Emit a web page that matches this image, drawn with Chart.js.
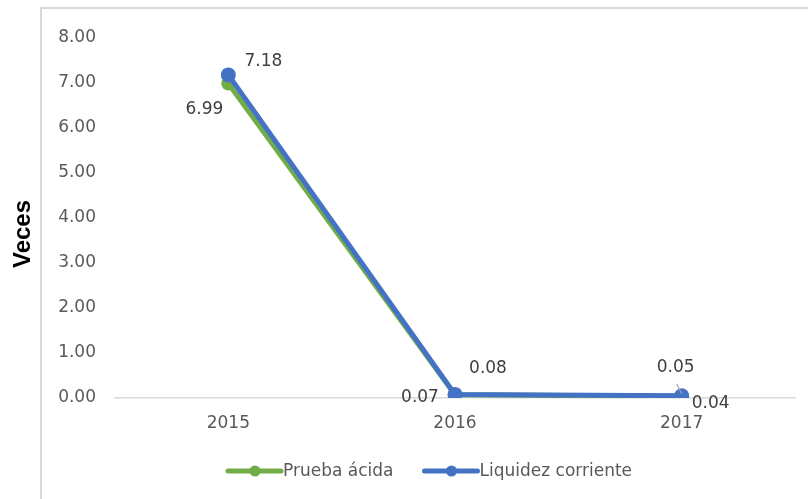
<!DOCTYPE html>
<html>
<head>
<meta charset="utf-8">
<script src="https://cdn.jsdelivr.net/npm/chart.js@4.4.0/dist/chart.umd.min.js"></script>
<style>
  html, body { margin: 0; padding: 0; background: #ffffff; }
  #wrap { width: 808px; height: 499px; }
</style>
</head>
<body>
<div id="wrap"><canvas id="canvas_liquidez" width="808" height="499"></canvas></div>
<script>
var years = ['2015', '2016', '2017'];
var pruebaAcida = [6.99, 0.07, 0.04];
var liquidezCorriente = [7.18, 0.08, 0.05];
var yTicks = [0, 1, 2, 3, 4, 5, 6, 7, 8];
var yTitle = 'Veces';

var FONT = '"DejaVu Sans", Verdana, sans-serif';

// label offsets (px) from each point, per dataset
var labelOffsets = [
  [[-24, 26], [-35, 3], [29, 7]],
  [[35, -13], [33, -26], [-6, -28]]
];

var decorPlugin = {
  id: 'decor',
  beforeDraw: function(chart) {
    var ctx = chart.ctx;
    ctx.save();
    ctx.strokeStyle = '#d9d9d9';
    ctx.lineWidth = 2;
    ctx.strokeRect(41, 8, 820, 600);
    ctx.restore();
  },
  afterDraw: function(chart) {
    var ctx = chart.ctx;
    ctx.save();
    // axis title
    ctx.save();
    ctx.translate(23, 234);
    ctx.rotate(-Math.PI / 2);
    ctx.font = 'bold 24px "Liberation Sans", Arial, sans-serif';
    ctx.fillStyle = '#000000';
    ctx.textAlign = 'center';
    ctx.textBaseline = 'middle';
    ctx.fillText(yTitle, 0, 0);
    ctx.restore();

    // data labels
    ctx.font = '17px ' + FONT;
    ctx.fillStyle = '#404040';
    ctx.textAlign = 'center';
    ctx.textBaseline = 'middle';
    chart.data.datasets.forEach(function(ds, di) {
      var meta = chart.getDatasetMeta(di);
      meta.data.forEach(function(pt, i) {
        var off = labelOffsets[di][i];
        ctx.fillText(ds.data[i].toFixed(2), pt.x + off[0], pt.y + off[1]);
      });
    });
    // small leader line at 2017
    var p = chart.getDatasetMeta(1).data[2];
    ctx.strokeStyle = '#a6a6a6';
    ctx.lineWidth = 1.2;
    ctx.beginPath();
    ctx.moveTo(p.x - 5, p.y - 12);
    ctx.lineTo(p.x, p.y - 2);
    ctx.stroke();

    // legend
    var items = chart.data.datasets;
    var y = 471;
    var x = 228;
    ctx.font = '17px ' + FONT;
    ctx.textAlign = 'left';
    ctx.fillStyle = '#595959';
    items.forEach(function(ds) {
      ctx.strokeStyle = ds.borderColor;
      ctx.lineWidth = 5;
      ctx.lineCap = 'round';
      ctx.beginPath();
      ctx.moveTo(x, y);
      ctx.lineTo(x + 53, y);
      ctx.stroke();
      ctx.fillStyle = ds.borderColor;
      ctx.beginPath();
      ctx.arc(x + 27, y, 5.5, 0, Math.PI * 2);
      ctx.fill();
      ctx.fillStyle = '#595959';
      ctx.fillText(ds.label, x + 55, y + 1);
      x += 55 + ctx.measureText(ds.label).width + 31;
    });
    ctx.restore();
  }
};

var ctxL = document.getElementById('canvas_liquidez').getContext('2d');
var myLineChart = new Chart(ctxL, {
  type: 'line',
  data: {
    labels: years,
    datasets: [{
      label: 'Prueba ácida',
      data: pruebaAcida,
      borderColor: '#70ad47',
      backgroundColor: '#70ad47',
      borderWidth: 5,
      pointRadius: 7,
      pointBorderWidth: 0,
      pointBackgroundColor: '#70ad47',
      order: 2
    }, {
      label: 'Liquidez corriente',
      data: liquidezCorriente,
      borderColor: '#4472c4',
      backgroundColor: '#4472c4',
      borderWidth: 5,
      pointRadius: 7.5,
      pointBorderWidth: 0,
      pointBackgroundColor: '#4472c4',
      order: 1
    }]
  },
  options: {
    responsive: false,
    animation: false,
    layout: { padding: { top: 38, right: 13, left: 0, bottom: 0 } },
    plugins: {
      legend: { display: false },
      tooltip: { enabled: false }
    },
    scales: {
      x: {
        offset: true,
        grid: { display: false, drawTicks: false },
        border: { display: true, color: '#d9d9d9', width: 1.5 },
        ticks: { color: '#595959', font: { family: FONT, size: 17 }, padding: 15 },
        afterFit: function(scale) { scale.height = 101; }
      },
      y: {
        min: yTicks[0],
        max: yTicks[yTicks.length - 1],
        afterBuildTicks: function(scale) {
          scale.ticks = yTicks.map(function(v) { return { value: v }; });
        },
        grid: { display: false, drawTicks: false },
        border: { display: false },
        ticks: {
          color: '#595959',
          font: { family: FONT, size: 17 },
          padding: 19,
          callback: function(v) { return Number(v).toFixed(2); }
        },
        afterFit: function(scale) { scale.width = 115; }
      }
    }
  },
  plugins: [decorPlugin]
});
</script>
</body>
</html>
